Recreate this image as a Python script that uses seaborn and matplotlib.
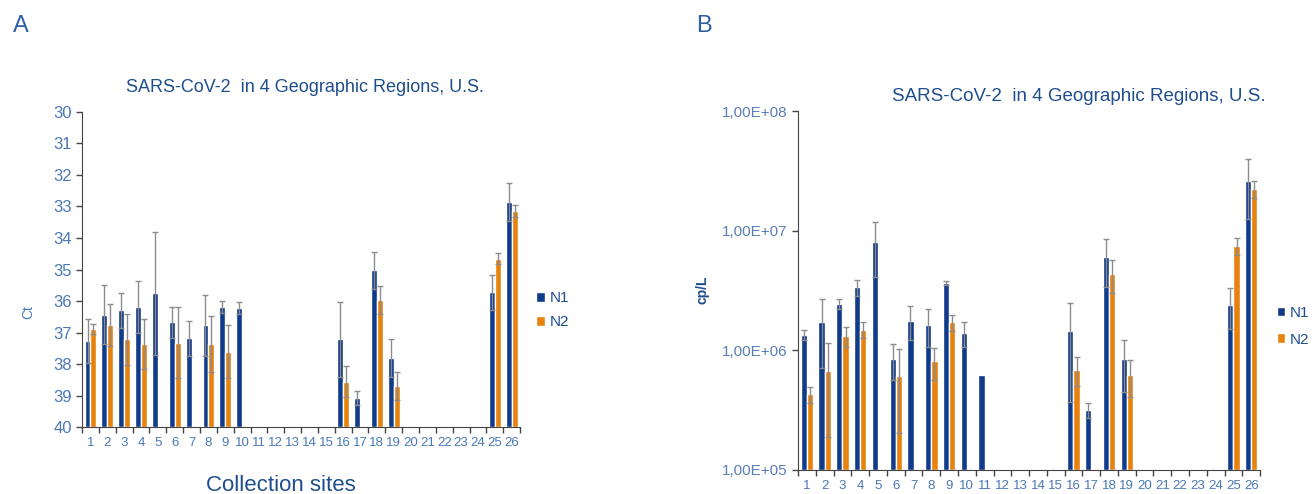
# two panels of SARS-CoV-2 N1/N2 results per collection site (Ct and cp/L)
import matplotlib
matplotlib.use("Agg")
import matplotlib.pyplot as plt
import matplotlib.ticker as mticker
import seaborn as sns
import numpy as np
import pandas as pd

nan = np.nan
sites = [str(s) for s in range(1, 27)]
genes = ['N1', 'N2']

# Panel A: Ct values (lower = more virus), mean and error
ct_n1 = [37.26, 36.43, 36.30, 36.19, 35.75, 36.68, 37.19, 36.77, 36.19, 36.22,
         nan, nan, nan, nan, nan, 37.22, 39.08, 35.03, 37.82,
         nan, nan, nan, nan, nan, 35.72, 32.85]
ct_n1_err = [0.70, 0.93, 0.56, 0.84, 1.95, 0.50, 0.55, 0.97, 0.19, 0.18,
             nan, nan, nan, nan, nan, 1.19, 0.23, 0.58, 0.60,
             nan, nan, nan, nan, nan, 0.55, 0.61]
ct_n2 = [36.88, 36.77, 37.22, 37.36, nan, 37.32, nan, 37.36, 37.61, nan,
         nan, nan, nan, nan, nan, 38.56, nan, 35.96, 38.69,
         nan, nan, nan, nan, nan, 34.66, 33.14]
ct_n2_err = [0.16, 0.67, 0.82, 0.80, nan, 1.13, nan, 0.88, 0.84, nan,
             nan, nan, nan, nan, nan, 0.50, nan, 0.45, 0.45,
             nan, nan, nan, nan, nan, 0.18, 0.19]

# Panel B: copies per litre
cp_n1 = [1.35e6, 1.71e6, 2.45e6, 3.35e6, 8.0e6, 8.5e5, 1.77e6, 1.64e6, 3.64e6, 1.39e6,
         6.2e5, nan, nan, nan, nan, 1.44e6, 3.16e5, 6.0e6, 8.4e5,
         nan, nan, nan, nan, nan, 2.4e6, 2.61e7]
cp_n1_err = [1.2e5, 1.0e6, 2.4e5, 5.3e5, 3.9e6, 2.8e5, 5.6e5, 5.7e5, 1.2e5, 3.2e5,
             nan, nan, nan, nan, nan, 1.07e6, 4.4e4, 2.6e6, 3.9e5,
             nan, nan, nan, nan, nan, 9.0e5, 1.37e7]
cp_n2 = [4.3e5, 6.7e5, 1.32e6, 1.49e6, nan, 6.15e5, nan, 8.1e5, 1.71e6, nan,
         nan, nan, nan, nan, nan, 6.9e5, nan, 4.35e6, 6.2e5,
         nan, nan, nan, nan, nan, 7.45e6, 2.25e7]
cp_n2_err = [6.7e4, 4.8e5, 2.6e5, 2.2e5, nan, 4.1e5, nan, 2.4e5, 2.7e5, nan,
             nan, nan, nan, nan, nan, 1.9e5, nan, 1.35e6, 2.1e5,
             nan, nan, nan, nan, nan, 1.2e6, 3.6e6]

title = 'SARS-CoV-2  in 4 Geographic Regions, U.S.'
palette = {'N1': '#103a8a', 'N2': '#e8820f'}
dark_blue = '#1f4e8c'
tick_blue = '#4a78b8'


def make_frame(n1, n1_err, n2, n2_err):
    df = pd.DataFrame({
        'site': sites * 2,
        'gene': ['N1'] * len(sites) + ['N2'] * len(sites),
        'value': n1 + n2,
        'err': n1_err + n2_err,
    })
    return df.dropna(subset=['value'])


def draw_panel(ax, df, base, log=False):
    if log:
        ax.set_yscale('log')
    sns.barplot(data=df, x='site', y='value', hue='gene', order=sites, hue_order=genes,
                palette=palette, width=0.7, errorbar=None, saturation=1, ax=ax)
    for container, gene in zip(ax.containers, genes):
        sub = df[df['gene'] == gene].set_index('site')
        for bar in container:
            xc = bar.get_x() + bar.get_width() / 2
            site = sites[int(round(xc))]
            v = sub.loc[site, 'value']
            # bars start where the category axis crosses (Excel style)
            bar.set_y(base)
            bar.set_height(v - base)
            e = sub.loc[site, 'err']
            if np.isnan(e):
                continue
            ax.errorbar(xc, v, yerr=e, fmt='none', ecolor='#8c8c8c', elinewidth=1.0,
                        capsize=2.5, capthick=1.0, zorder=3)

    ax.set_xlim(-0.5, len(sites) - 0.5)
    ax.xaxis.set_minor_locator(mticker.FixedLocator(np.arange(len(sites) + 1) - 0.5))
    ax.tick_params(axis='x', which='major', length=0, labelsize=9.5, labelcolor=tick_blue, pad=7)
    ax.tick_params(axis='x', which='minor', length=4, width=1, color='#444444')
    ax.tick_params(axis='y', which='major', length=4, width=1, color='#444444')
    ax.set_xlabel('')
    ax.set_ylabel('')
    sns.despine(ax=ax)
    for s in ['left', 'bottom']:
        ax.spines[s].set_color('#444444')


sns.set_style('ticks')
plt.rcParams['font.family'] = ['Liberation Sans', 'DejaVu Sans']

fig = plt.figure(figsize=(13.13, 4.94), dpi=100)
ax_a = fig.add_axes([0.0625, 0.1356, 0.3336, 0.6377])
ax_b = fig.add_axes([0.6078, 0.0486, 0.3519, 0.7267])

legend_kw = dict(title=None, frameon=False, fontsize=11, handlelength=0.55, handleheight=0.55,
                 handletextpad=0.3, borderpad=0.2, borderaxespad=0.0, labelcolor=dark_blue)

# Panel A
df_a = make_frame(ct_n1, ct_n1_err, ct_n2, ct_n2_err)
draw_panel(ax_a, df_a, base=40)
ax_a.set_ylim(40, 30)
ax_a.set_yticks(range(30, 41))
ax_a.tick_params(axis='y', labelsize=12, labelcolor=tick_blue)
sns.move_legend(ax_a, 'center left', bbox_to_anchor=(1.03, 0.37), labelspacing=0.65, **legend_kw)

# Panel B
df_b = make_frame(cp_n1, cp_n1_err, cp_n2, cp_n2_err)
draw_panel(ax_b, df_b, base=1e5, log=True)
ax_b.set_ylim(1e5, 1e8)
ax_b.yaxis.set_major_locator(mticker.LogLocator(base=10, numticks=10))
ax_b.yaxis.set_minor_locator(mticker.NullLocator())
ax_b.yaxis.set_major_formatter(mticker.FuncFormatter(lambda v, p: f'1,00E+{int(round(np.log10(v))):02d}'))
ax_b.tick_params(axis='y', labelsize=11, labelcolor='#5a7fb5')
sns.move_legend(ax_b, 'center left', bbox_to_anchor=(1.03, 0.40), labelspacing=0.8, **legend_kw)

# texts
fig.text(0.2323, 0.822, title, ha='center', va='center', fontsize=13, color=dark_blue)
fig.text(0.8218, 0.804, title, ha='center', va='center', fontsize=13.5, color=dark_blue)
fig.text(0.214, 0.018, 'Collection sites', ha='center', va='center', fontsize=16, color=dark_blue)
fig.text(0.0213, 0.368, 'Ct', ha='center', va='center', rotation=90, fontsize=10, color=tick_blue)
fig.text(0.5354, 0.413, 'cp/L', ha='center', va='center', rotation=90, fontsize=10,
         fontweight='bold', color=dark_blue)
fig.text(0.016, 0.947, 'A', ha='center', va='center', fontsize=17, color='#2d5fa6')
fig.text(0.536, 0.947, 'B', ha='center', va='center', fontsize=17, color='#2d5fa6')

fig.savefig('out.png', dpi=100)
